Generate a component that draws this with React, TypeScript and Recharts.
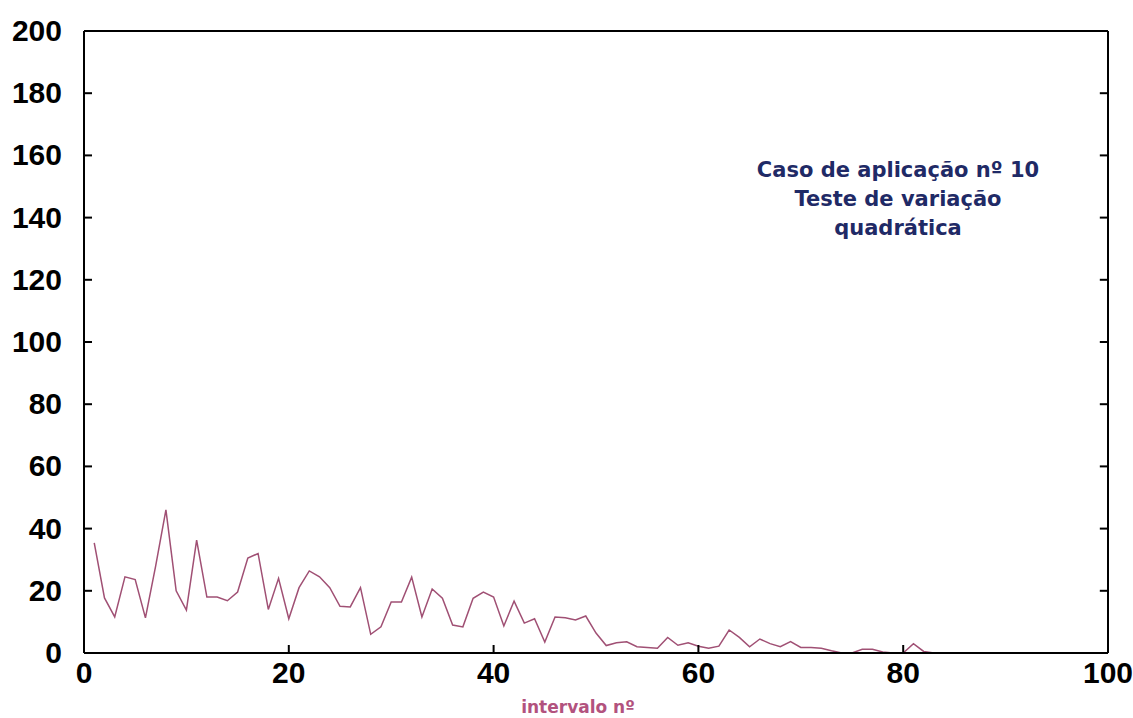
import { ComposedChart, Line, Scatter, XAxis, YAxis, ReferenceLine } from "recharts";

const intervals: number[] = Array.from({ length: 92 }, (_, i) => i + 1);

const values: number[] = [
  35.4, 17.7, 11.6, 24.5, 23.6, 11.3, 28, 46, 20, 13.8,
  36.3, 18, 18, 16.8, 19.6, 30.5, 32, 14, 24, 11,
  21, 26.4, 24.5, 21, 15, 14.8, 21, 6, 8.4, 16.4,
  16.4, 24.4, 11.6, 20.6, 17.6, 9, 8.4, 17.6, 19.6, 18,
  8.7, 16.7, 9.6, 11, 3.5, 11.6, 11.3, 10.6, 11.9, 6.4,
  2.4, 3.3, 3.6, 2, 1.8, 1.5, 5, 2.5, 3.3, 2.2,
  1.5, 2.2, 7.4, 5, 2, 4.5, 3, 2, 3.7, 1.8,
  1.8, 1.5, 0.7, 0, 0, 1.2, 1.2, 0.3, 0, 0,
  3, 0.5, 0, 0, 0, 0, 0, 0, 0, 0,
  0, 0,
];

const xTicks = [0, 20, 40, 60, 80, 100];
const yTicks = [0, 20, 40, 60, 80, 100, 120, 140, 160, 180, 200];
const xInnerTicks = [20, 40, 60, 80];
const yInnerTicks = [20, 40, 60, 80, 100, 120, 140, 160, 180];

const noteLines = ["Caso de aplicação nº 10", "Teste de variação", "quadrática"];

const chartData = intervals.map((x, i) => ({ x, v: values[i] }));

// anchor points for the inward tick marks on the left and bottom frame
const leftMarks = yInnerTicks.map((t) => ({ x: 0, m: t }));
const bottomMarks = xInnerTicks.map((t) => ({ x: t, m: 0 }));

const X_MARK = 0.8;
const MARK_PX = 8;

const labelStyle = {
  fontFamily: "'Liberation Sans', Arial, sans-serif",
  fontWeight: 700,
  fontSize: 30,
};

const LeftLabel = ({ x, y, payload }: any) => (
  <text x={x} y={y} dy={10} textAnchor="end" fill="#000" style={labelStyle}>
    {payload.value}
  </text>
);

const BottomLabel = ({ x, y, payload }: any) => (
  <text x={x} y={y} dy={14} textAnchor="middle" fill="#000" style={labelStyle}>
    {payload.value}
  </text>
);

const LeftMark = ({ cx, cy }: any) => (
  <line x1={cx} x2={cx + MARK_PX} y1={cy} y2={cy} stroke="#000" strokeWidth={2} />
);

const BottomMark = ({ cx, cy }: any) => (
  <line x1={cx} x2={cx} y1={cy} y2={cy - MARK_PX} stroke="#000" strokeWidth={2} />
);

export default function App() {
  return (
    <div style={{ position: "absolute", left: 0, top: 0, width: 1133, height: 718, background: "#fff" }}>
      <ComposedChart
        width={1133}
        height={718}
        data={chartData}
        margin={{ top: 30, right: 24, bottom: 0, left: 0 }}
      >
        <XAxis
          dataKey="x"
          type="number"
          domain={[0, 100]}
          ticks={xTicks}
          height={65}
          stroke="#000"
          strokeWidth={2}
          tickLine={false}
          tickSize={0}
          tickMargin={16}
          tick={<BottomLabel />}
        />
        <XAxis
          xAxisId="top"
          orientation="top"
          dataKey="x"
          type="number"
          domain={[0, 100]}
          height={1}
          stroke="#000"
          strokeWidth={2}
          tick={false}
          tickLine={false}
        />
        <YAxis
          type="number"
          domain={[0, 200]}
          ticks={yTicks}
          width={84}
          stroke="#000"
          strokeWidth={2}
          tickLine={false}
          tickSize={0}
          tickMargin={22}
          tick={<LeftLabel />}
        />
        <YAxis
          yAxisId="right"
          orientation="right"
          type="number"
          domain={[0, 200]}
          width={1}
          stroke="#000"
          strokeWidth={2}
          tick={false}
          tickLine={false}
        />
        {yInnerTicks.map((t) => (
          <ReferenceLine
            key={`yr-${t}`}
            segment={[{ x: 100 - X_MARK, y: t }, { x: 100, y: t }]}
            stroke="#000"
            strokeWidth={2}
            ifOverflow="visible"
          />
        ))}
        <Line
          type="linear"
          dataKey="v"
          stroke="#a05074"
          strokeWidth={1.5}
          dot={false}
          isAnimationActive={false}
        />
        <Scatter
          data={leftMarks}
          dataKey="m"
          shape={<LeftMark />}
          isAnimationActive={false}
        />
        <Scatter
          data={bottomMarks}
          dataKey="m"
          shape={<BottomMark />}
          isAnimationActive={false}
        />
      </ComposedChart>
      <div
        style={{
          position: "absolute",
          left: 718,
          top: 156,
          width: 360,
          textAlign: "center",
          fontFamily: "'DejaVu Sans', sans-serif",
          fontWeight: 700,
          fontSize: 21,
          lineHeight: "29px",
          color: "#1f2a66",
        }}
      >
        {noteLines.map((t) => (
          <div key={t}>{t}</div>
        ))}
      </div>
      <div
        style={{
          position: "absolute",
          left: 478,
          top: 697,
          width: 200,
          textAlign: "center",
          fontFamily: "'DejaVu Sans', sans-serif",
          fontWeight: 700,
          fontSize: 17,
          color: "#b2527e",
        }}
      >
        intervalo nº
      </div>
    </div>
  );
}
